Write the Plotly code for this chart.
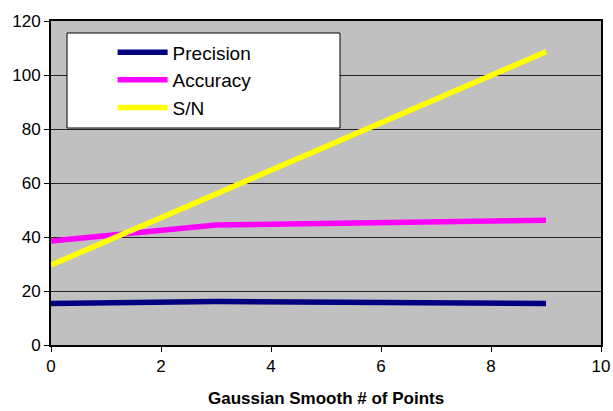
import plotly.graph_objects as go

x_points = [0, 3, 9]
precision = [15.4, 16.1, 15.4]
accuracy = [38.5, 44.4, 46.2]
s_n = [29.6, 55.9, 108.6]
x_title = "Gaussian Smooth # of Points"

series = [("Precision", precision, "#000080"),
          ("Accuracy", accuracy, "#FF00FF"),
          ("S/N", s_n, "#FFFF00")]

fig = go.Figure()
for name, vals, col in series:
    fig.add_trace(go.Scatter(x=x_points, y=vals, mode="lines", name=name,
                             line=dict(color=col, width=5.5)))

fig.update_layout(
    width=613, height=411,
    margin=dict(l=51, r=12, t=21, b=66),
    paper_bgcolor="white",
    plot_bgcolor="#C0C0C0",
    font=dict(family="Liberation Sans, Arial", color="black"),
    showlegend=True,
    legend=dict(x=0.112, y=0.962, xanchor="left", yanchor="top",
                bgcolor="rgba(0,0,0,0)", font=dict(size=19),
                itemwidth=50, tracegroupgap=0),
    xaxis=dict(range=[0, 10], tickvals=[0, 2, 4, 6, 8, 10], showgrid=False,
               ticks="outside", ticklen=5, tickcolor="black",
               showline=True, linecolor="black", linewidth=2, mirror=True,
               tickfont=dict(size=17), automargin=False, zeroline=False),
    yaxis=dict(range=[0, 120], tickvals=[0, 20, 40, 60, 80, 100, 120],
               showgrid=True, gridcolor="#222222", gridwidth=1,
               ticks="outside", ticklen=5, tickcolor="black",
               showline=True, linecolor="black", linewidth=2, mirror=True,
               tickfont=dict(size=17), zeroline=False, automargin=False),
    annotations=[dict(text="<b>" + x_title + "</b>", xref="paper", yref="paper",
                      x=0.5, y=(345 - 410) / 324, xanchor="center",
                      yanchor="bottom", showarrow=False, font=dict(size=17))],
    shapes=[dict(type="rect", xref="paper", yref="paper",
                 x0=(67 - 51) / 550, x1=(340 - 51) / 550,
                 y0=(345 - 128) / 324, y1=(345 - 33) / 324,
                 fillcolor="white", line=dict(color="black", width=1),
                 layer="above")],
)

fig.write_html("out.html")
